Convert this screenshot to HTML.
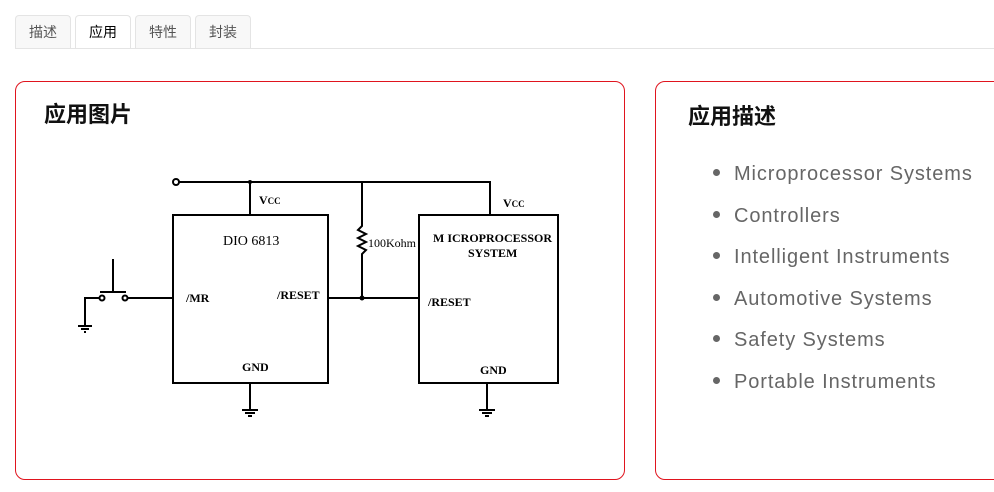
<!DOCTYPE html>
<html><head><meta charset="utf-8"><style>
body{margin:0;width:994px;height:492px;overflow:hidden;background:#fff;font-family:"Liberation Sans","Noto Sans CJK SC",sans-serif;position:relative}
.tab{position:absolute;top:15px;height:33px;width:56px;border:1px solid #e4e4e4;border-bottom:none;border-radius:4px 4px 0 0;background:#f8f8f8;font-size:14px;color:#555;text-align:center;line-height:33px;box-sizing:border-box}
.tab.a{background:#fff;color:#000}
.line{position:absolute;left:15px;right:0;top:48px;border-top:1px solid #e4e4e4}
.card{position:absolute;top:81px;height:399px;border:1px solid #e0141e;border-radius:10px;box-sizing:border-box}
h2{position:absolute;margin:0;font-size:22px;font-weight:bold;color:#111}
ul{position:absolute;left:716px;top:152px;margin:0;padding:0 0 0 18px;color:#666;font-size:20px;letter-spacing:0.9px;list-style:disc}
li{height:41.6px;line-height:41.6px;white-space:nowrap}
li::marker{color:#666;font-size:24px}
</style></head><body>
<div class="tab" style="left:15px">描述</div>
<div class="tab a" style="left:75px">应用</div>
<div class="tab" style="left:135px">特性</div>
<div class="tab" style="left:195px">封装</div>
<div class="line"></div>
<div class="card" style="left:15px;width:610px"></div>
<div class="card" style="left:655px;width:360px"></div>
<h2 style="left:44px;top:97px">应用图片</h2>
<h2 style="left:688px;top:99px">应用描述</h2>
<ul><li>Microprocessor Systems</li><li>Controllers</li><li>Intelligent Instruments</li><li>Automotive Systems</li><li>Safety Systems</li><li>Portable Instruments</li></ul>
<svg style="position:absolute;left:0;top:0" width="994" height="492" font-family="Liberation Serif,serif" font-weight="bold" font-size="12">
<g stroke="#000" stroke-width="2" fill="none">
<circle cx="176" cy="182" r="3" fill="#fff"/>
<path d="M179 182H490V215M250 182V215M362 182V226l-4 4 8 4-8 4 8 4-8 4 8 4-4 4V298M328 298H419"/>
<rect x="173" y="215" width="155" height="168"/>
<rect x="419" y="215" width="139" height="168"/>
<path d="M250 383V410M242 410h16M245 413h10M248 416h4"/>
<path d="M487 383V410M479 410h16M482 413h10M485 416h4"/>
<path d="M127 298H173M99 298H85V326M78 326h14M81 329h8M84 332h2M113 259V292M100 292H126"/>
<circle cx="102" cy="298" r="2.5" fill="#fff"/><circle cx="125" cy="298" r="2.5" fill="#fff"/>
</g>
<circle cx="250" cy="182" r="2" fill="#000"/><circle cx="362" cy="298" r="2.5" fill="#000"/>
<text x="259" y="204">V<tspan font-size="9">CC</tspan></text>
<text x="503" y="207">V<tspan font-size="9">CC</tspan></text>
<text x="223" y="245" font-size="14" font-weight="normal">DIO 6813</text>
<text x="186" y="302">/MR</text>
<text x="277" y="299">/RESET</text>
<text x="368" y="247" font-weight="normal">100Kohm</text>
<text x="433" y="242">M ICROPROCESSOR</text>
<text x="468" y="257">SYSTEM</text>
<text x="428" y="306">/RESET</text>
<text x="242" y="371">GND</text>
<text x="480" y="374">GND</text>
</svg>
</body></html>
